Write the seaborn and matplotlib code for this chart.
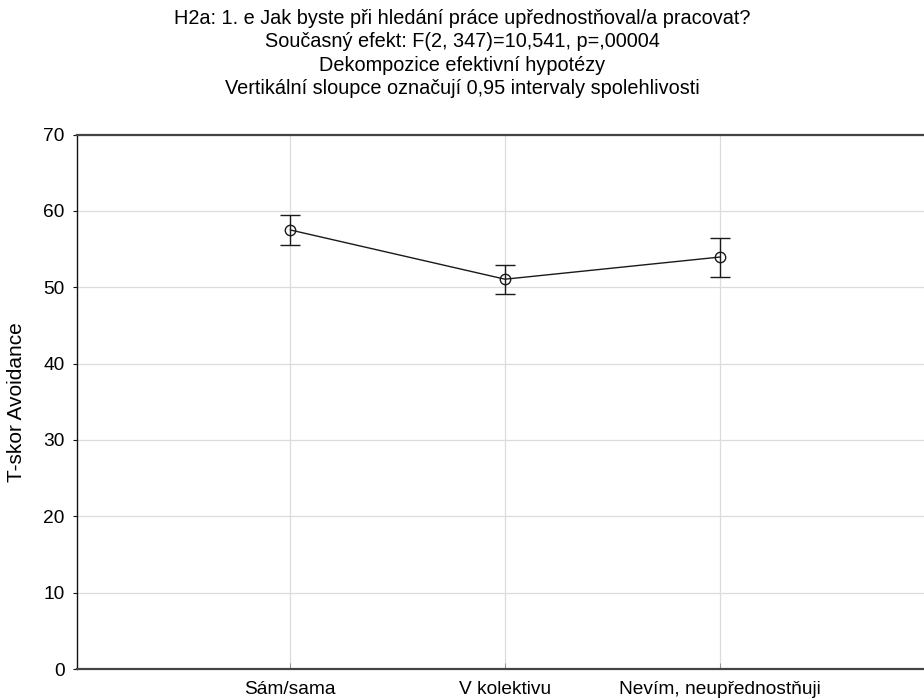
import matplotlib
matplotlib.use("Agg")
import matplotlib.pyplot as plt
import seaborn as sns
import pandas as pd

# Group means and 0.95 confidence limits of the T-score
groups = ["Sám/sama", "V kolektivu", "Nevím, neupřednostňuji"]
means = [57.5, 51.05, 53.95]
ci_low = [55.5, 49.1, 51.4]
ci_high = [59.5, 52.95, 56.5]

title_lines = [
    "H2a: 1. e Jak byste při hledání práce upřednostňoval/a pracovat?",
    "Současný efekt: F(2, 347)=10,541, p=,00004",
    "Dekompozice efektivní hypotézy",
    "Vertikální sloupce označují 0,95 intervaly spolehlivosti",
]
y_label = "T-skor Avoidance"

sns.set_theme(style="white")
plt.rcParams["font.family"] = ["Liberation Sans", "DejaVu Sans"]

df = pd.DataFrame({"group": groups, "mean": means, "lo": ci_low, "hi": ci_high})

fig = plt.figure(figsize=(9.24, 7.0), dpi=100)
ax = fig.add_axes([77 / 924, 1 - 669 / 700, 1 - 77 / 924, (669 - 134.5) / 700])

ink = "#1a1a1a"
sns.lineplot(data=df, x="group", y="mean", ax=ax, color=ink, linewidth=1.0,
             marker="o", markersize=7.5, markerfacecolor="none",
             markeredgecolor=ink, markeredgewidth=1.0, sort=False)
ax.errorbar(df["group"], df["mean"],
            yerr=[df["mean"] - df["lo"], df["hi"] - df["mean"]],
            fmt="none", ecolor=ink, elinewidth=1.0, capsize=7.5, capthick=1.0)

ax.set_xlim(-0.993, 2.951)
ax.set_ylim(0, 70)
ax.set_yticks(range(0, 71, 10))
ax.grid(True, color="#dcdcdc", linewidth=0.9)
ax.set_axisbelow(True)

for side in ("top", "bottom"):
    ax.spines[side].set_color("#444444")
    ax.spines[side].set_linewidth(1.6)
ax.spines["left"].set_color("#111111")
ax.spines["left"].set_linewidth(1.0)
ax.spines["right"].set_visible(False)

ax.tick_params(axis="y", direction="out", length=3, width=0.8, color="#111111",
               labelsize=13.8, labelcolor="black", pad=6, left=True)
ax.tick_params(axis="x", direction="in", length=4, width=0.6, color="#888888",
               labelsize=13.8, labelcolor="black", pad=9, bottom=True)
ax.set_xlabel("")
ax.set_ylabel(y_label, fontsize=15, color="black", labelpad=12)

for i, line in enumerate(title_lines):
    fig.text(0.5, 1 - (18 + i * 23.6) / 700, line, ha="center", va="center",
             fontsize=14.3, color="black")

fig.savefig("out.png", dpi=100)
